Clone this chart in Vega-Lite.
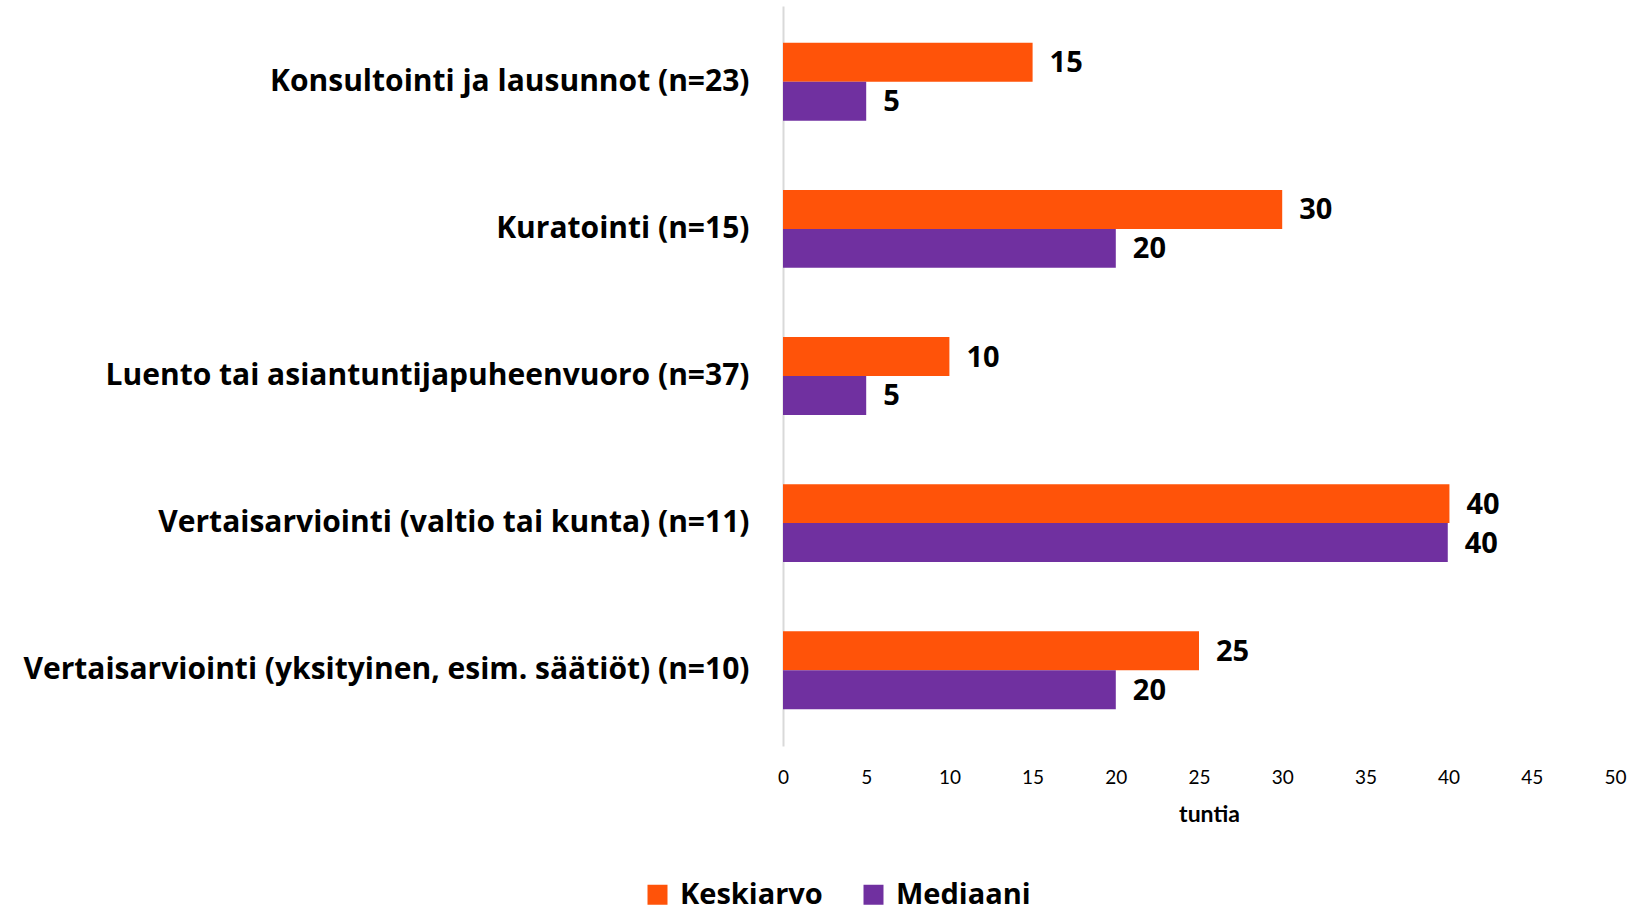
{
  "$schema": "https://vega.github.io/schema/vega-lite/v6.json",
  "width": 832,
  "height": 740,
  "autosize": {"type": "none"},
  "padding": {"left": 783, "top": 6, "right": 19, "bottom": 166},
  "background": "white",
  "config": {
    "view": {"stroke": null},
    "font": "Lato"
  },
  "data": {
    "values": [
      {"kategoria": "Konsultointi ja lausunnot (n=23)", "mitta": "Keskiarvo", "arvo": 15},
      {"kategoria": "Konsultointi ja lausunnot (n=23)", "mitta": "Mediaani", "arvo": 5},
      {"kategoria": "Kuratointi (n=15)", "mitta": "Keskiarvo", "arvo": 30},
      {"kategoria": "Kuratointi (n=15)", "mitta": "Mediaani", "arvo": 20},
      {"kategoria": "Luento tai asiantuntijapuheenvuoro (n=37)", "mitta": "Keskiarvo", "arvo": 10},
      {"kategoria": "Luento tai asiantuntijapuheenvuoro (n=37)", "mitta": "Mediaani", "arvo": 5},
      {"kategoria": "Vertaisarviointi (valtio tai kunta) (n=11)", "mitta": "Keskiarvo", "arvo": 40.05},
      {"kategoria": "Vertaisarviointi (valtio tai kunta) (n=11)", "mitta": "Mediaani", "arvo": 39.95},
      {"kategoria": "Vertaisarviointi (yksityinen, esim. säätiöt) (n=10)", "mitta": "Keskiarvo", "arvo": 25},
      {"kategoria": "Vertaisarviointi (yksityinen, esim. säätiöt) (n=10)", "mitta": "Mediaani", "arvo": 20}
    ]
  },
  "encoding": {
    "y": {
      "field": "kategoria",
      "type": "nominal",
      "sort": null,
      "scale": {"paddingInner": 0.47, "paddingOuter": 0.25},
      "axis": {
        "title": null,
        "domainColor": "#d9d9d9",
        "domainWidth": 2,
        "ticks": false,
        "labelFont": "Open Sans",
        "labelFontWeight": "bold",
        "labelFontSize": 30,
        "labelColor": "#000000",
        "labelPadding": 34,
        "labelLimit": 800
      }
    },
    "yOffset": {"field": "mitta", "type": "nominal", "sort": ["Keskiarvo", "Mediaani"]},
    "x": {
      "field": "arvo",
      "type": "quantitative",
      "scale": {"domain": [0, 50], "nice": false},
      "axis": {
        "values": [0, 5, 10, 15, 20, 25, 30, 35, 40, 45, 50],
        "title": "tuntia",
        "titleFont": "Lato",
        "titleFontWeight": "bold",
        "titleFontSize": 23,
        "titleColor": "#000000",
        "titlePadding": 16,
        "titleX": 426,
        "domain": false,
        "ticks": false,
        "grid": false,
        "labelFont": "Lato",
        "labelFontSize": 19,
        "labelColor": "#000000",
        "labelPadding": 22,
        "labelFlush": false
      }
    },
    "color": {
      "field": "mitta",
      "type": "nominal",
      "sort": ["Keskiarvo", "Mediaani"],
      "scale": {"domain": ["Keskiarvo", "Mediaani"], "range": ["#FF5309", "#7030A0"]},
      "legend": {
        "title": null,
        "orient": "none",
        "direction": "horizontal",
        "legendX": -140,
        "legendY": 874,
        "symbolType": "square",
        "symbolSize": 400,
        "symbolStrokeWidth": 0,
        "labelFont": "Open Sans",
        "labelFontWeight": "bold",
        "labelFontSize": 29,
        "labelColor": "#000000",
        "columnPadding": 36,
        "labelOffset": 8
      }
    }
  },
  "layer": [
    {"mark": {"type": "bar", "opacity": 1}},
    {
      "mark": {
        "type": "text",
        "align": "left",
        "baseline": "middle",
        "dx": 17,
        "dy": 1,
        "font": "Open Sans",
        "fontWeight": "bold",
        "fontSize": 29,
        "color": "#000000"
      },
      "encoding": {
        "text": {"field": "arvo", "type": "quantitative", "format": ".0f"},
        "color": {"value": "#000000"}
      }
    }
  ]
}
